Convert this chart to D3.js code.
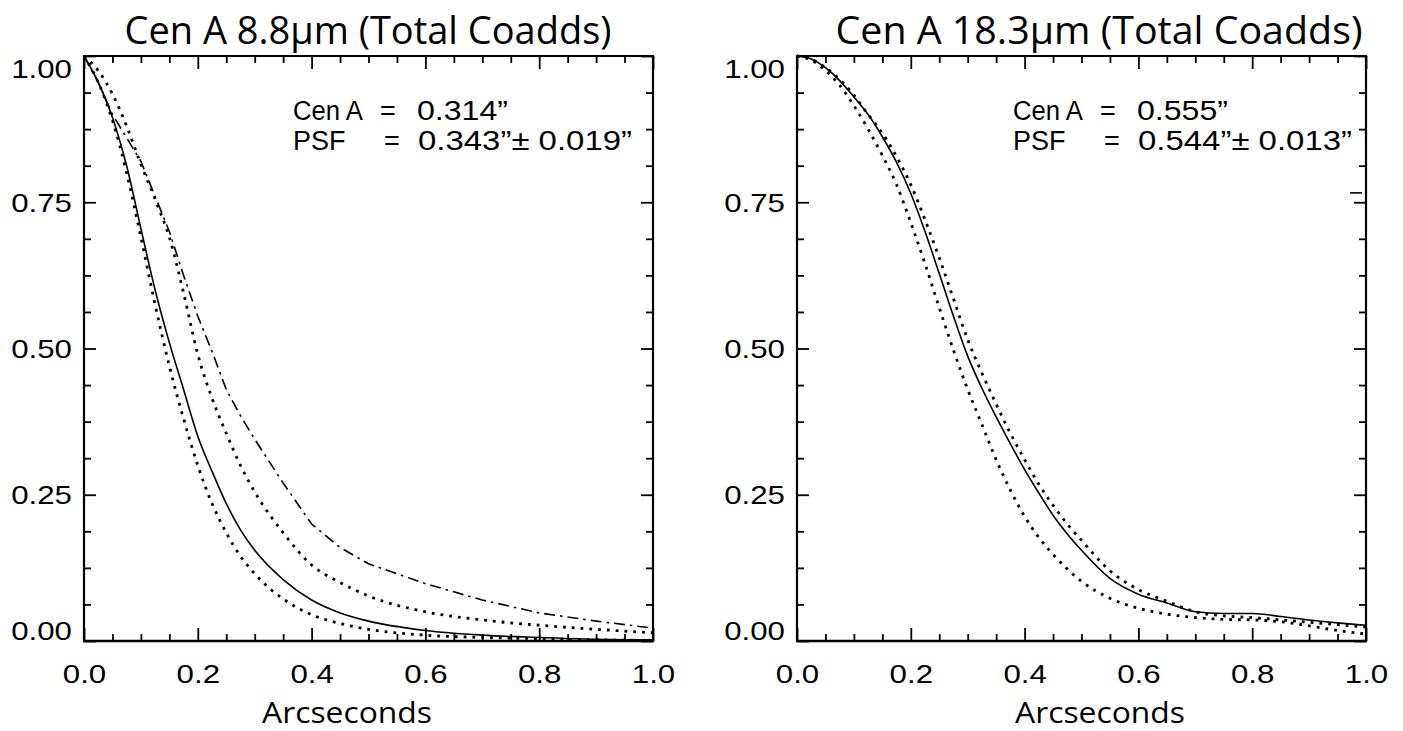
<!DOCTYPE html>
<html><head><meta charset="utf-8">
<script src="https://cdn.jsdelivr.net/npm/d3@7"></script>
<style>body{margin:0;background:#fff}svg{display:block}</style>
</head><body>
<svg id="c" width="1403" height="731"></svg>
<script>
// ---------- data ----------
const xTickValues = [0, 0.2, 0.4, 0.6, 0.8, 1.0];
const xTickLabels = ["0.0", "0.2", "0.4", "0.6", "0.8", "1.0"];
const xMinorTicks = [0.05, 0.1, 0.15, 0.25, 0.3, 0.35, 0.45, 0.5, 0.55, 0.65, 0.7, 0.75, 0.85, 0.9, 0.95];
const yTickValues = [0, 0.25, 0.5, 0.75, 1.0];
const yTickLabels = ["0.00", "0.25", "0.50", "0.75", "1.00"];
const yMinorTicks = [0.0625, 0.125, 0.1875, 0.3125, 0.375, 0.4375, 0.5625, 0.625, 0.6875, 0.8125, 0.875, 0.9375];

const titles = ["Cen A 8.8\u03bcm (Total Coadds)", "Cen A 18.3\u03bcm (Total Coadds)"];
const xAxisTitle = "Arcseconds";
const annoCenA = ["0.314\u201d", "0.555\u201d"];
const annoPSF = ["0.343\u201d\u00b1 0.019\u201d", "0.544\u201d\u00b1 0.013\u201d"];

// left panel (8.8 micron)
const leftRadius = [0, 0.025, 0.05, 0.075, 0.1, 0.125, 0.15, 0.175, 0.2, 0.225, 0.25, 0.275, 0.3, 0.35, 0.4, 0.45, 0.5, 0.6, 0.7, 0.8, 0.9, 1.0];
const leftCenA    = [1.0, 0.955, 0.895, 0.812, 0.705, 0.60, 0.51, 0.43, 0.35, 0.29, 0.235, 0.19, 0.155, 0.105, 0.07, 0.048, 0.034, 0.018, 0.010, 0.006, 0.003, 0.002];
const leftPsfLow  = [1.0, 0.955, 0.89, 0.80, 0.69, 0.575, 0.47, 0.38, 0.30, 0.235, 0.185, 0.145, 0.115, 0.072, 0.045, 0.030, 0.020, 0.010, 0.006, 0.004, 0.002, 0.001];
const leftPsfHigh = [1.0, 0.975, 0.935, 0.88, 0.815, 0.755, 0.69, 0.595, 0.49, 0.415, 0.355, 0.30, 0.255, 0.185, 0.13, 0.10, 0.077, 0.05, 0.036, 0.027, 0.02, 0.014];
const leftOther   = [1.0, 0.955, 0.90, 0.86, 0.82, 0.76, 0.70, 0.625, 0.555, 0.495, 0.43, 0.385, 0.345, 0.27, 0.20, 0.16, 0.132, 0.098, 0.07, 0.048, 0.034, 0.022];

// right panel (18.3 micron)
const rightRadius  = [0, 0.025, 0.05, 0.075, 0.1, 0.125, 0.15, 0.175, 0.2, 0.225, 0.25, 0.275, 0.3, 0.325, 0.35, 0.375, 0.4, 0.425, 0.45, 0.475, 0.5, 0.55, 0.6, 0.65, 0.7, 0.75, 0.8, 0.85, 0.9, 0.95, 1.0];
const rightCenA    = [1.0, 0.995, 0.98, 0.958, 0.93, 0.90, 0.862, 0.818, 0.765, 0.70, 0.628, 0.555, 0.487, 0.432, 0.383, 0.337, 0.293, 0.253, 0.215, 0.183, 0.155, 0.107, 0.08, 0.065, 0.05, 0.047, 0.047, 0.042, 0.036, 0.031, 0.027];
const rightPsfHigh = [1.0, 0.995, 0.98, 0.96, 0.933, 0.90, 0.868, 0.828, 0.78, 0.72, 0.655, 0.585, 0.515, 0.458, 0.405, 0.355, 0.31, 0.268, 0.232, 0.20, 0.172, 0.12, 0.088, 0.068, 0.05, 0.043, 0.04, 0.036, 0.032, 0.028, 0.024];
const rightPsfLow  = [1.0, 0.993, 0.975, 0.95, 0.915, 0.875, 0.83, 0.78, 0.715, 0.645, 0.57, 0.497, 0.43, 0.37, 0.31, 0.258, 0.213, 0.177, 0.148, 0.123, 0.102, 0.073, 0.056, 0.046, 0.04, 0.037, 0.036, 0.033, 0.026, 0.018, 0.012];
const rightStrayX = [0.972, 0.993];
const rightStrayY = [0.766, 0.766];

// ---------- layout ----------
const svg = d3.select("#c");
const panels = [
  {x0: 84, x1: 653, title: titles[0], titleX: 368, titleW: 487, labelX: 347, annoX: 293,
   series: [
     {r: leftRadius, v: leftCenA, style: "solid"},
     {r: leftRadius, v: leftPsfLow, style: "dot"},
     {r: leftRadius, v: leftPsfHigh, style: "dot"},
     {r: leftRadius, v: leftOther, style: "dashdot"}
   ], cenA: annoCenA[0], psf: annoPSF[0]},
  {x0: 797, x1: 1366, title: titles[1], titleX: 1099, titleW: 527, labelX: 1100, annoX: 1013,
   series: [
     {r: rightRadius, v: rightCenA, style: "solid"},
     {r: rightRadius, v: rightPsfLow, style: "dot"},
     {r: rightRadius, v: rightPsfHigh, style: "dot"},
     {r: rightStrayX, v: rightStrayY, style: "stray"}
   ], cenA: annoCenA[1], psf: annoPSF[1]}
];
const yTop = 56, yBot = 641;
const tickFont = "'Liberation Sans', Arial, sans-serif";
const titleFont = "'Open Sans', 'Noto Sans', sans-serif";

function stretch(sel, factor) {
  sel.each(function() {
    const n = this.getComputedTextLength();
    d3.select(this).attr("textLength", n * factor).attr("lengthAdjust", "spacingAndGlyphs");
  });
}

panels.forEach(p => {
  const x = d3.scaleLinear().domain([0, 1]).range([p.x0, p.x1]);
  const y = d3.scaleLinear().domain([0, 1]).range([yBot, yTop]);
  const g = svg.append("g");

  // curves
  const line = d3.line().x(d => x(d[0])).y(d => y(d[1]));
  p.series.forEach(s => {
    const pts = s.r.map((r, i) => [r, s.v[i]]);
    const path = g.append("path").datum(pts).attr("fill", "none").attr("stroke", "#000");
    if (s.style === "solid") {
      path.attr("d", line.curve(d3.curveMonotoneX)(pts)).attr("stroke-width", 1.6);
    } else if (s.style === "dot") {
      path.attr("d", line.curve(d3.curveMonotoneX)(pts)).attr("stroke-width", 2.8)
        .attr("stroke-dasharray", "2.8,6");
    } else if (s.style === "dashdot") {
      path.attr("d", line.curve(d3.curveLinear)(pts)).attr("stroke-width", 1.6)
        .attr("stroke-dasharray", "11,5,2.5,5");
    } else {
      path.attr("d", line.curve(d3.curveLinear)(pts)).attr("stroke-width", 1.6);
    }
  });

  // axes (ticks point inward)
  const fmtY = (d) => yTickLabels[yTickValues.indexOf(d)];
  const fmtX = (d) => xTickLabels[xTickValues.indexOf(d)];

  const axL = g.append("g").attr("transform", `translate(${p.x0},0)`)
    .call(d3.axisLeft(y).tickValues(yTickValues).tickFormat(fmtY).tickSize(-12).tickPadding(12));
  axL.append("g").call(d3.axisLeft(y).tickValues(yMinorTicks).tickFormat("").tickSize(-7));
  const axR = g.append("g").attr("transform", `translate(${p.x1},0)`)
    .call(d3.axisRight(y).tickValues(yTickValues).tickFormat("").tickSize(-12));
  axR.append("g").call(d3.axisRight(y).tickValues(yMinorTicks).tickFormat("").tickSize(-7));
  const axB = g.append("g").attr("transform", `translate(0,${yBot})`)
    .call(d3.axisBottom(x).tickValues(xTickValues).tickFormat(fmtX).tickSize(-13).tickPadding(24));
  axB.append("g").call(d3.axisBottom(x).tickValues(xMinorTicks).tickFormat("").tickSize(-7));
  const axT = g.append("g").attr("transform", `translate(0,${yTop})`)
    .call(d3.axisTop(x).tickValues(xTickValues).tickFormat("").tickSize(-13));
  axT.append("g").call(d3.axisTop(x).tickValues(xMinorTicks).tickFormat("").tickSize(-7));

  [axL, axR, axB, axT].forEach(a => {
    a.selectAll(".domain").remove();
    a.selectAll(".tick line").attr("stroke", "#000").attr("stroke-width", 1.8);
  });
  g.append("line").attr("x1", x(0)).attr("x2", x(0)).attr("y1", y(0) + 1).attr("y2", y(1) - 1).attr("stroke", "#000").attr("stroke-width", 2.2);
  g.append("line").attr("x1", x(1)).attr("x2", x(1)).attr("y1", y(0) + 1).attr("y2", y(1) - 1).attr("stroke", "#000").attr("stroke-width", 2.2);
  g.append("line").attr("x1", x(0) - 1).attr("x2", x(1) + 1).attr("y1", y(0)).attr("y2", y(0)).attr("stroke", "#000").attr("stroke-width", 2.6);
  g.append("line").attr("x1", x(0) - 1).attr("x2", x(1) + 1).attr("y1", y(1)).attr("y2", y(1)).attr("stroke", "#000").attr("stroke-width", 2.2);

  // tick label styling
  axL.selectAll(".tick text").attr("font-family", tickFont).attr("font-size", 25).attr("fill", "#000")
    .attr("dy", d => d === 1 ? "0.85em" : d === 0 ? "-0.05em" : "0.36em");
  axB.selectAll(".tick text").attr("font-family", tickFont).attr("font-size", 25).attr("fill", "#000");
  stretch(axL.selectAll(".tick text"), 1.25);
  stretch(axB.selectAll(".tick text"), 1.25);

  // title
  svg.append("text").attr("x", p.titleX).attr("y", 44).attr("text-anchor", "middle")
    .attr("font-family", titleFont).attr("font-size", 39).attr("fill", "#000").text(p.title)
    .attr("textLength", p.titleW).attr("lengthAdjust", "spacingAndGlyphs");

  // x axis title
  svg.append("text").attr("x", p.labelX).attr("y", 723).attr("text-anchor", "middle")
    .attr("font-family", titleFont).attr("font-size", 29).attr("fill", "#000").text(xAxisTitle)
    .attr("textLength", 170).attr("lengthAdjust", "spacingAndGlyphs");

  // annotation
  const af = {"font-family": tickFont, "font-size": 27, "fill": "#000"};
  const l1 = svg.append("text").attr("y", 120);
  const l2 = svg.append("text").attr("y", 150);
  Object.entries(af).forEach(([k, v]) => { l1.attr(k, v); l2.attr(k, v); });
  l1.append("tspan").attr("x", p.annoX).text("Cen A").attr("textLength", 70).attr("lengthAdjust", "spacingAndGlyphs");
  l1.append("tspan").attr("x", p.annoX + 87).text("=");
  l1.append("tspan").attr("x", p.annoX + 124).text(p.cenA).attr("textLength", 91).attr("lengthAdjust", "spacingAndGlyphs");
  l2.append("tspan").attr("x", p.annoX).text("PSF");
  l2.append("tspan").attr("x", p.annoX + 91).text("=");
  l2.append("tspan").attr("x", p.annoX + 125).text(p.psf).attr("textLength", 214).attr("lengthAdjust", "spacingAndGlyphs");
});
</script>
</body></html>
